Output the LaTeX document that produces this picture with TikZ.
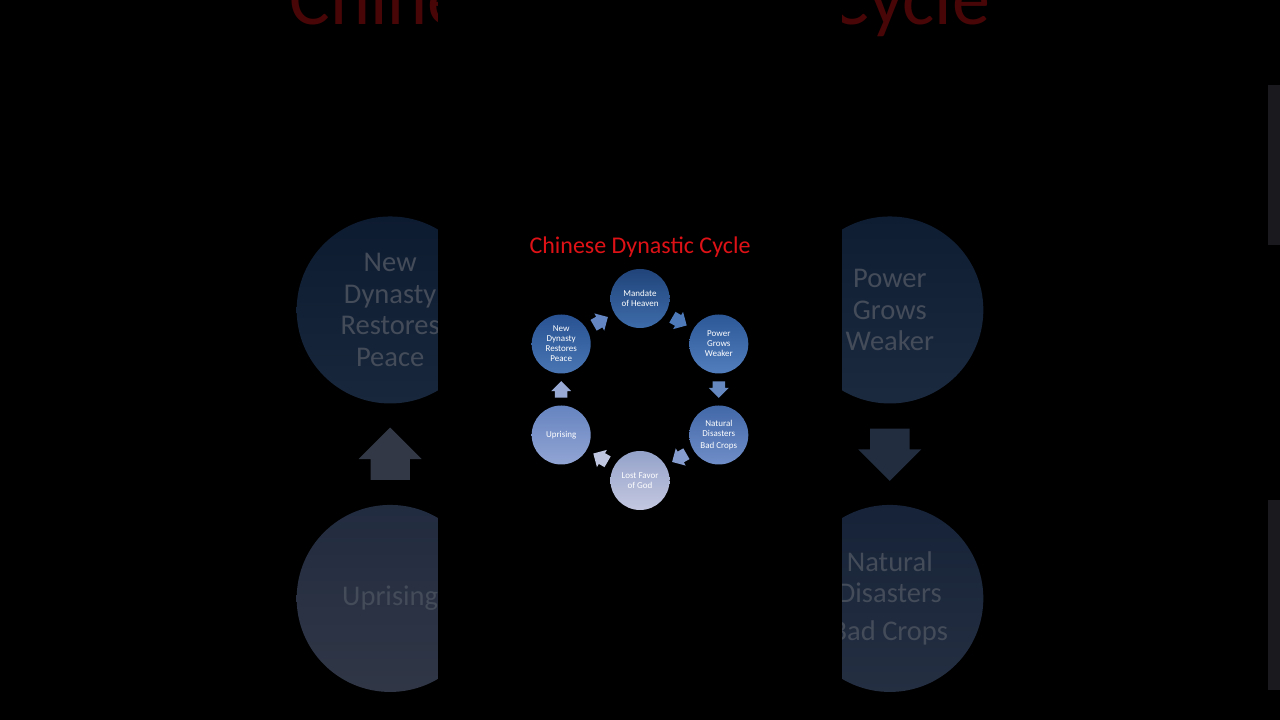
\documentclass[tikz,border=0pt]{standalone}
\usepackage{fontspec}
\setmainfont{Carlito}
\usetikzlibrary{shapes.arrows,calc}
% circle colours (top / bottom of the gradient)
\definecolor{c1t}{RGB}{32,68,122}   \definecolor{c1b}{RGB}{62,108,170}
\definecolor{c2t}{RGB}{45,88,152}   \definecolor{c2b}{RGB}{82,126,190}
\definecolor{c3t}{RGB}{66,104,168}  \definecolor{c3b}{RGB}{112,142,200}
\definecolor{c4t}{RGB}{148,162,202} \definecolor{c4b}{RGB}{196,200,224}
\definecolor{c5t}{RGB}{102,132,192} \definecolor{c5b}{RGB}{146,165,212}
\definecolor{c6t}{RGB}{40,82,146}   \definecolor{c6b}{RGB}{74,118,180}
% arrow colours
\definecolor{a1}{RGB}{78,122,186}
\definecolor{a2}{RGB}{102,136,192}
\definecolor{a3}{RGB}{132,156,206}
\definecolor{a4}{RGB}{190,198,224}
\definecolor{a5}{RGB}{152,170,212}
\definecolor{a6}{RGB}{100,134,194}
\definecolor{titlered}{RGB}{222,18,22}
\definecolor{bgtext}{RGB}{68,76,90}
\definecolor{edgegray}{RGB}{26,26,30}
\tikzset{
  stage/.style={circle, minimum size=59pt, inner sep=0pt, align=center,
    text=\txt, font=\fontsize{9}{10}\selectfont},
  titletext/.style={text=titlered!\dimf!black, font=\fontsize{24}{28}\selectfont, inner sep=0pt},
  blockarr/.style={single arrow, minimum height=16.5pt, minimum width=19.5pt,
    text height=12pt, text depth=0pt, text width=0pt,
    single arrow head extend=3.75pt, inner sep=0pt, anchor=tail, draw=none},
}
\newcommand{\drawcycle}{%
  \node[titletext] (title) at (0,142) {Chinese Dynastic Cycle};
  \node[stage, top color=c1t!\dimf!black, bottom color=c1b!\dimf!black] (mandate) at (90:91) {Mandate\\of Heaven};
  \node[stage, top color=c2t!\dimf!black, bottom color=c2b!\dimf!black] (power) at (30:91) {Power\\Grows\\Weaker};
  \node[stage, top color=c3t!\dimf!black, bottom color=c3b!\dimf!black] (natural) at (-30:91) {Natural\\Disasters\\[2pt]Bad Crops};
  \node[stage, top color=c4t!\dimf!black, bottom color=c4b!\dimf!black] (lost) at (-90:91) {Lost Favor\\of God};
  \node[stage, top color=c5t!\dimf!black, bottom color=c5b!\dimf!black] (uprising) at (-150:91) {Uprising};
  \node[stage, top color=c6t!\dimf!black, bottom color=c6b!\dimf!black] (newdyn) at (150:91) {New\\Dynasty\\Restores\\Peace};
  \node[blockarr, fill=a1!\dimf!black, rotate=-30] (arr1) at ($(mandate)!0.409!(power)$) {};
  \node[blockarr, fill=a2!\dimf!black, rotate=-90] (arr2) at ($(power)!0.409!(natural)$) {};
  \node[blockarr, fill=a3!\dimf!black, rotate=-150] (arr3) at ($(natural)!0.409!(lost)$) {};
  \node[blockarr, fill=a4!\dimf!black, rotate=150] (arr4) at ($(lost)!0.409!(uprising)$) {};
  \node[blockarr, fill=a5!\dimf!black, rotate=90] (arr5) at ($(uprising)!0.409!(newdyn)$) {};
  \node[blockarr, fill=a6!\dimf!black, rotate=30] (arr6) at ($(newdyn)!0.409!(mandate)$) {};
}
\begin{document}
\begin{tikzpicture}[x=1pt, y=1pt]
  \useasboundingbox (0,0) rectangle (1280,720);
  \fill[black] (0,0) rectangle (1280,720);
  % enlarged, dimmed background copy
  \begin{scope}
    \clip (0,0) rectangle (1280,720);
    \begin{scope}[shift={(640,265.8)}, scale=3.17, transform shape, name prefix=bg-]
      \def\dimf{33}\def\txt{bgtext}
      \drawcycle
    \end{scope}
  \end{scope}
  \fill[edgegray] (1268,475) rectangle (1280,635);
  \fill[edgegray] (1268,30) rectangle (1280,220);
  % central panel
  \fill[black] (438,0) rectangle (842,720);
  \begin{scope}[shift={(640,330.5)}]
    \def\dimf{100}\def\txt{white}
    \drawcycle
  \end{scope}
\end{tikzpicture}
\end{document}
